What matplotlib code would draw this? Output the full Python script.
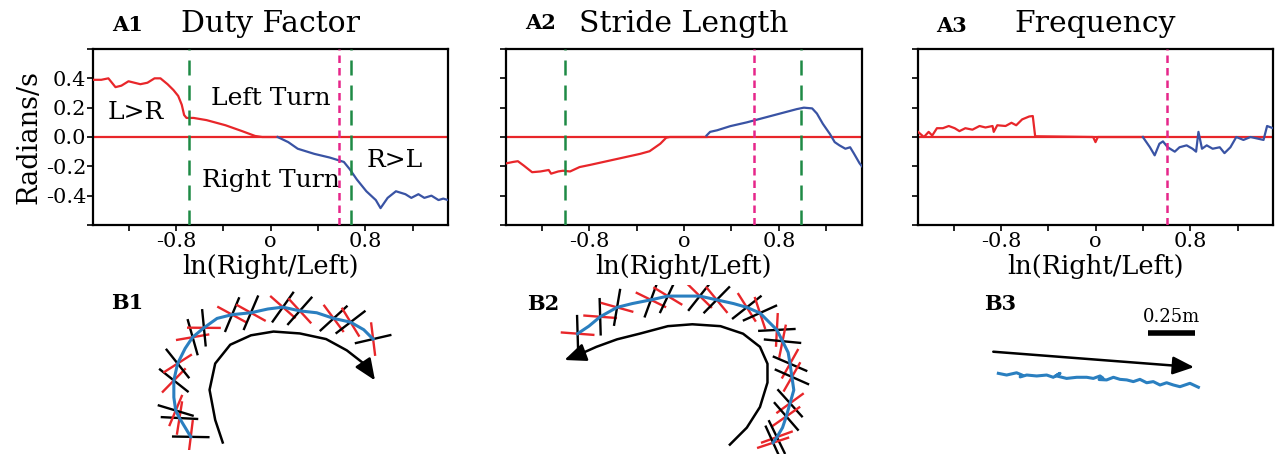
import numpy as np
import matplotlib
matplotlib.use("Agg")
import matplotlib.pyplot as plt

plt.rcParams['font.family'] = ['DejaVu Serif']

RED = '#e8262a'
BLUE = '#3953a4'
GREEN = '#1e8a45'
MAGENTA = '#e6268a'
TRACK = '#2a7fc0'

# ---------------- A panels: ln(Right/Left) vs Radians/s ----------------
a1_red_x = [-1.50, -1.43, -1.37, -1.31, -1.26, -1.20, -1.15, -1.10, -1.04, -0.98, -0.93,
            -0.87, -0.82, -0.78, -0.75, -0.73, -0.71, -0.65, -0.54, -0.38, -0.24, -0.13, -0.07, 0.06]
a1_red_y = [0.39, 0.39, 0.40, 0.34, 0.35, 0.38, 0.37, 0.36, 0.37, 0.40, 0.40,
            0.36, 0.32, 0.28, 0.22, 0.15, 0.13, 0.13, 0.115, 0.08, 0.04, 0.007, 0.0, 0.0]
a1_blue_x = [0.06, 0.15, 0.23, 0.37, 0.50, 0.62, 0.67, 0.73, 0.81, 0.89, 0.93, 0.99,
             1.06, 1.14, 1.19, 1.25, 1.30, 1.36, 1.42, 1.46, 1.50]
a1_blue_y = [0.0, -0.035, -0.08, -0.115, -0.14, -0.17, -0.22, -0.29, -0.37, -0.43, -0.485, -0.415,
             -0.37, -0.39, -0.415, -0.39, -0.415, -0.40, -0.43, -0.42, -0.43]

a2_red_x = [-1.50, -1.44, -1.40, -1.35, -1.28, -1.21, -1.14, -1.12, -1.06, -1.02, -0.96,
            -0.88, -0.79, -0.65, -0.51, -0.37, -0.29, -0.20, -0.15, -0.12, 0.19]
a2_red_y = [-0.18, -0.17, -0.165, -0.195, -0.24, -0.235, -0.225, -0.25, -0.235, -0.23, -0.235,
            -0.205, -0.19, -0.165, -0.14, -0.115, -0.097, -0.046, -0.005, 0.0, 0.0]
a2_blue_x = [0.19, 0.22, 0.28, 0.39, 0.53, 0.67, 0.81, 0.95, 1.01, 1.08, 1.12, 1.17,
             1.23, 1.27, 1.31, 1.36, 1.40, 1.43, 1.48, 1.50]
a2_blue_y = [0.01, 0.035, 0.046, 0.074, 0.10, 0.13, 0.16, 0.19, 0.20, 0.195, 0.16, 0.09,
             0.02, -0.035, -0.057, -0.08, -0.07, -0.11, -0.18, -0.20]

a3_red_x = [-1.50, -1.45, -1.41, -1.38, -1.34, -1.29, -1.24, -1.19, -1.15, -1.10, -1.04,
            -0.98, -0.93, -0.87, -0.86, -0.83, -0.76, -0.71, -0.67, -0.62, -0.56, -0.53,
            -0.51, -0.02, 0.0, 0.02, 0.40]
a3_red_y = [0.035, 0.0, 0.035, 0.01, 0.06, 0.06, 0.075, 0.06, 0.04, 0.06, 0.05,
            0.075, 0.065, 0.075, 0.035, 0.08, 0.075, 0.097, 0.08, 0.12, 0.14, 0.143,
            0.005, 0.0, -0.035, 0.0, 0.0]
a3_blue_x = [0.40, 0.46, 0.50, 0.54, 0.57, 0.61, 0.67, 0.71, 0.77, 0.82, 0.85, 0.87, 0.90,
             0.94, 0.99, 1.05, 1.09, 1.14, 1.19, 1.25, 1.31, 1.42, 1.45, 1.50]
a3_blue_y = [0.0, -0.07, -0.125, -0.046, -0.03, -0.07, -0.10, -0.07, -0.057, -0.08, -0.10, 0.035, -0.08,
             -0.057, -0.08, -0.07, -0.11, -0.07, 0.0, -0.02, 0.0, -0.02, 0.075, 0.06]

green_lines = [[-0.69, 0.68], [-1.00, 0.99], []]
magenta_line = [0.58, 0.59, 0.60]

x_ticks = [-1.2, -0.8, -0.4, 0.0, 0.4, 0.8, 1.2]
x_tick_labels = ['', '-0.8', '', 'o', '', '0.8', '']
y_ticks = [-0.6, -0.4, -0.2, 0.0, 0.2, 0.4, 0.6]
y_tick_labels = ['', '-0.4', '-0.2', '0.0', '0.2', '0.4', '']

titles = ['Duty Factor', 'Stride Length', 'Frequency']
tags = ['A1', 'A2', 'A3']

# ---------------- B panels: trajectories (metres) ----------------
b1_track_x = [0.27, 0.24, 0.21, 0.19, 0.18, 0.18, 0.20, 0.24, 0.28, 0.34, 0.41, 0.49,
              0.59, 0.68, 0.76, 0.85, 0.94, 1.03, 1.12, 1.19, 1.24]
b1_track_y = [0.07, 0.12, 0.17, 0.21, 0.28, 0.37, 0.46, 0.54, 0.60, 0.65, 0.70, 0.72,
              0.73, 0.75, 0.76, 0.74, 0.73, 0.70, 0.68, 0.64, 0.59]
b1_steps = [0, 2, 3, 5, 6, 8, 9, 11, 12, 14, 15, 17, 18, 20]
b1_arrow_x = [0.44, 0.40, 0.37, 0.40, 0.48, 0.59, 0.71, 0.85, 0.99, 1.10, 1.19, 1.25]
b1_arrow_y = [0.04, 0.16, 0.32, 0.46, 0.56, 0.61, 0.63, 0.62, 0.59, 0.53, 0.46, 0.37]

b2_track_x = [0.20, 0.26, 0.32, 0.41, 0.49, 0.59, 0.68, 0.76, 0.85, 0.94, 1.03, 1.10, 1.17,
              1.22, 1.26, 1.29, 1.32, 1.33, 1.34, 1.35, 1.33, 1.31, 1.29, 1.26, 1.24]
b2_track_y = [0.64, 0.68, 0.73, 0.78, 0.80, 0.82, 0.84, 0.84, 0.84, 0.82, 0.80, 0.78, 0.75,
              0.70, 0.66, 0.60, 0.54, 0.48, 0.41, 0.34, 0.27, 0.20, 0.14, 0.09, 0.06]
b2_steps = [0, 2, 3, 5, 6, 8, 9, 11, 12, 14, 15, 17, 18, 20, 21, 23, 24]
b2_arrow_x = [1.01, 1.10, 1.17, 1.21, 1.21, 1.17, 1.08, 0.96, 0.81, 0.68, 0.53, 0.41, 0.30, 0.21, 0.13]
b2_arrow_y = [0.05, 0.14, 0.25, 0.38, 0.48, 0.57, 0.64, 0.68, 0.69, 0.68, 0.64, 0.61, 0.57, 0.53, 0.50]

b3_track_x = [0.204, 0.248, 0.301, 0.330, 0.320, 0.355, 0.408, 0.461, 0.496, 0.532, 0.510, 0.567,
              0.621, 0.674, 0.709, 0.745, 0.760, 0.740, 0.780, 0.816, 0.851, 0.887, 0.922,
              0.957, 0.993, 1.028, 1.064, 1.099, 1.135, 1.170, 1.223, 1.268]
b3_track_y = [0.195, 0.186, 0.198, 0.186, 0.176, 0.186, 0.181, 0.186, 0.174, 0.195, 0.182, 0.168,
              0.174, 0.174, 0.168, 0.181, 0.170, 0.162, 0.160, 0.174, 0.163, 0.160, 0.151,
              0.163, 0.145, 0.151, 0.133, 0.145, 0.133, 0.124, 0.142, 0.121]
b3_arrow_x = [0.177, 1.245]
b3_arrow_y = [0.310, 0.228]
scale_bar_x = [1.00, 1.25]
scale_bar_y = 0.408


def draw_a(ax, rx, ry, bx, by, greens, mag, title, show_ylabels):
    ax.axhline(0, color=RED, lw=1.6, zorder=2)
    ax.plot(rx, ry, color=RED, lw=1.6, zorder=3)
    ax.plot(bx, by, color=BLUE, lw=1.6, zorder=3)
    for g in greens:
        ax.axvline(g, color=GREEN, lw=1.8, dashes=(6, 4), zorder=4)
    ax.axvline(mag, color=MAGENTA, lw=1.8, dashes=(3, 2), zorder=4)
    ax.set_xlim(-1.5, 1.5)
    ax.set_ylim(-0.6, 0.6)
    ax.set_xticks(x_ticks)
    ax.set_xticklabels(x_tick_labels, fontsize=15)
    ax.set_yticks(y_ticks)
    if show_ylabels:
        ax.set_yticklabels(y_tick_labels, fontsize=15)
        ax.set_ylabel('Radians/s', fontsize=19.5, labelpad=2)
    else:
        ax.set_yticklabels([])
    ax.tick_params(length=4, width=1.2, pad=1)
    for s in ax.spines.values():
        s.set_linewidth(1.6)
    ax.set_xlabel('ln(Right/Left)', fontsize=18.5, labelpad=2)
    ax.set_title(title, fontsize=21.5, pad=12)


def tangent_angles(xs, ys):
    xs = np.asarray(xs)
    ys = np.asarray(ys)
    return np.arctan2(np.gradient(ys), np.gradient(xs))


def draw_feet(ax, xs, ys, steps):
    # a black and a red foot mark crossing the track at each step
    ang = tangent_angles(xs, ys)
    for i in steps:
        x, y, a = xs[i], ys[i], ang[i]
        for off, c, L in [(np.radians(58), 'black', 0.20), (np.radians(142), RED, 0.18)]:
            t = a + off
            ax.plot([x - L / 2 * np.cos(t), x + L / 2 * np.cos(t)],
                    [y - L / 2 * np.sin(t), y + L / 2 * np.sin(t)],
                    color=c, lw=1.7, zorder=2, solid_capstyle='butt')


def draw_arrow(ax, xs, ys):
    ax.plot(xs[:-1], ys[:-1], color='black', lw=1.8, zorder=3)
    ax.annotate('', xy=(xs[-1], ys[-1]), xytext=(xs[-2], ys[-2]),
                arrowprops=dict(arrowstyle='-|>,head_length=1.3,head_width=0.55',
                                color='black', lw=1.8, shrinkA=0, shrinkB=0))


W, H = 1276, 454
fig = plt.figure(figsize=(W / 100, H / 100), dpi=100)


def px_axes(left, top, right, bottom):
    return fig.add_axes([left / W, (H - bottom) / H, (right - left) / W, (bottom - top) / H])


a_boxes = [(93, 49, 448, 225), (506, 49, 862, 225), (918, 49, 1273, 225)]
a_data = [(a1_red_x, a1_red_y, a1_blue_x, a1_blue_y),
          (a2_red_x, a2_red_y, a2_blue_x, a2_blue_y),
          (a3_red_x, a3_red_y, a3_blue_x, a3_blue_y)]
for i, box in enumerate(a_boxes):
    ax = px_axes(*box)
    rx, ry, bx, by = a_data[i]
    draw_a(ax, rx, ry, bx, by, green_lines[i], magenta_line[i], titles[i], i == 0)
    if i == 0:
        ax.text(-1.14, 0.17, 'L>R', fontsize=18, ha='center', va='center')
        ax.text(0.0, 0.26, 'Left Turn', fontsize=18, ha='center', va='center')
        ax.text(0.0, -0.30, 'Right Turn', fontsize=18, ha='center', va='center')
        ax.text(1.05, -0.16, 'R>L', fontsize=18, ha='center', va='center')

tag_pos = [(128, 25), (541, 23), (952, 26)]
for t, (x, y) in zip(tags, tag_pos):
    fig.text(x / W, 1 - y / H, t, fontsize=15, fontweight='bold', ha='center', va='center')

# B panels
PX_PER_M = 188.0
b_boxes = [(140, 290, 400, 450), (540, 285, 830, 454), (960, 290, 1260, 410)]
b_axes = []
for (l, t, r, b) in b_boxes:
    ax = px_axes(l, t, r, b)
    ax.set_xlim(0, (r - l) / PX_PER_M)
    ax.set_ylim(0, (b - t) / PX_PER_M)
    ax.axis('off')
    b_axes.append(ax)

ax = b_axes[0]
draw_feet(ax, b1_track_x, b1_track_y, b1_steps)
ax.plot(b1_track_x, b1_track_y, color=TRACK, lw=2.2, zorder=3)
draw_arrow(ax, b1_arrow_x, b1_arrow_y)

ax = b_axes[1]
draw_feet(ax, b2_track_x, b2_track_y, b2_steps)
ax.plot(b2_track_x, b2_track_y, color=TRACK, lw=2.2, zorder=3)
draw_arrow(ax, b2_arrow_x, b2_arrow_y)

ax = b_axes[2]
ax.plot(b3_track_x, b3_track_y, color=TRACK, lw=2.2, zorder=3)
draw_arrow(ax, b3_arrow_x, b3_arrow_y)
ax.plot(scale_bar_x, [scale_bar_y, scale_bar_y], color='black', lw=4, solid_capstyle='butt')
ax.text(np.mean(scale_bar_x), scale_bar_y + 0.04, '0.25m', fontsize=13, ha='center', va='bottom')

b_tag_pos = [(127, 303), (543, 304), (1000, 304)]
for t, (x, y) in zip(['B1', 'B2', 'B3'], b_tag_pos):
    fig.text(x / W, 1 - y / H, t, fontsize=15, fontweight='bold', ha='center', va='center')

fig.savefig('out.png', dpi=100)
